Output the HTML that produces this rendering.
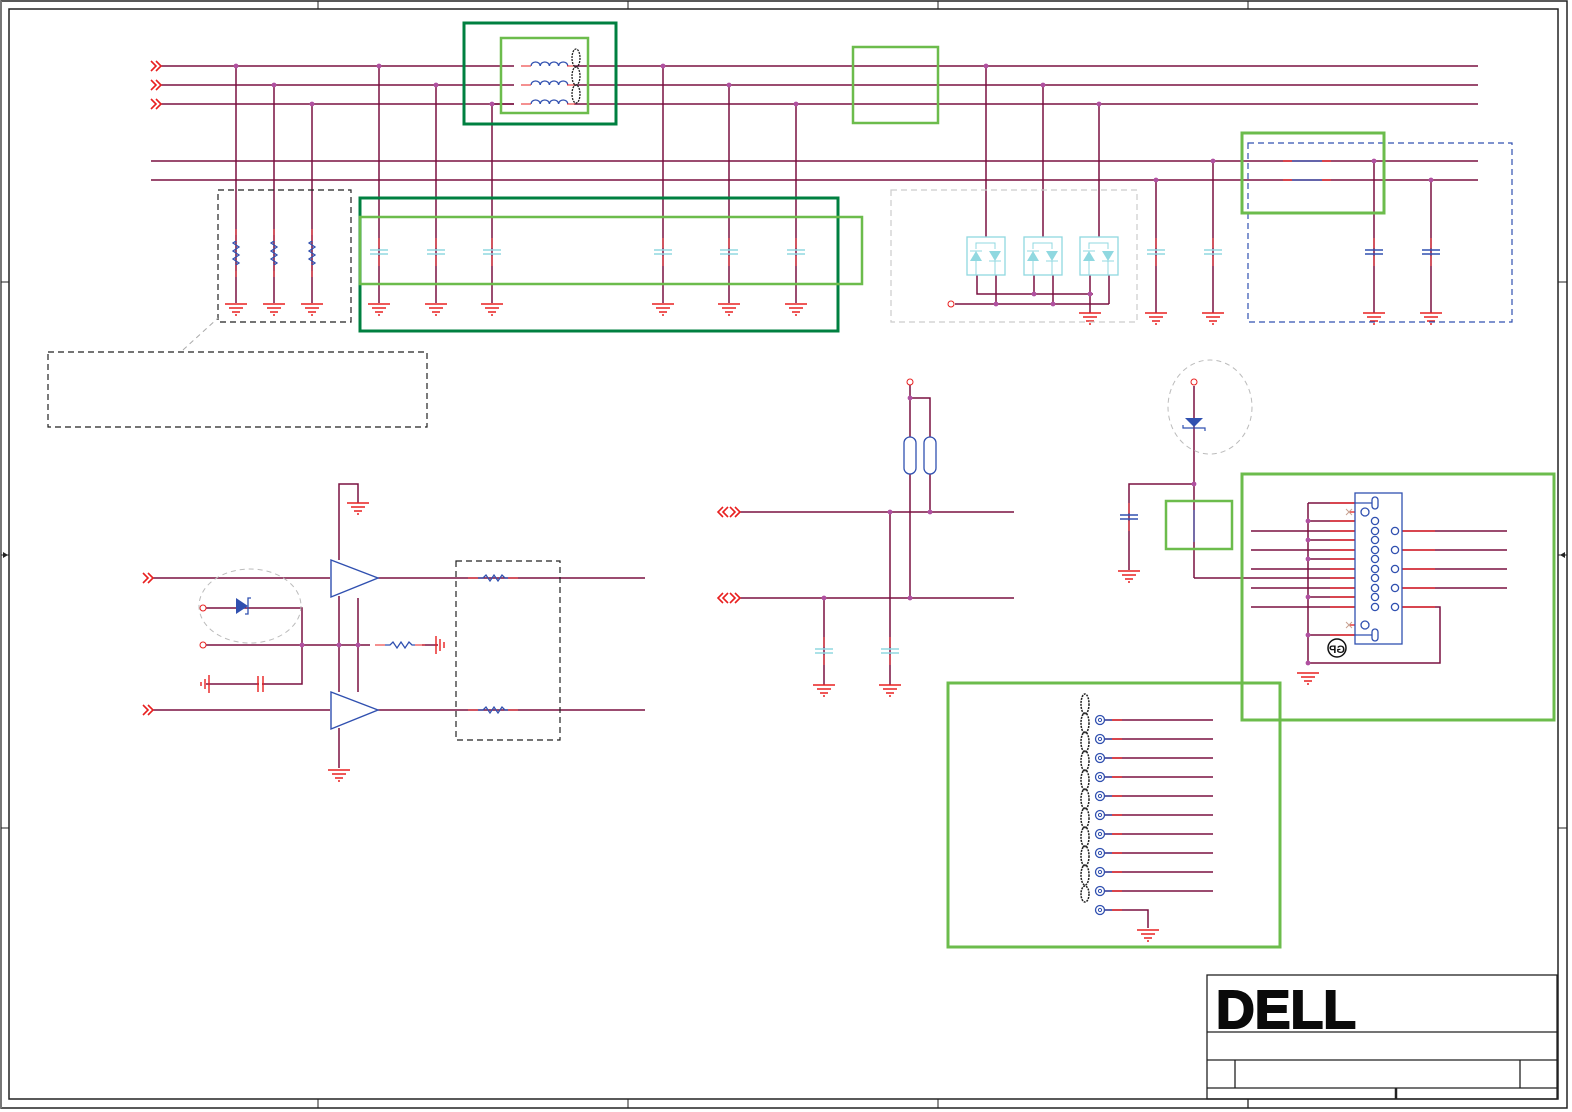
<!DOCTYPE html>
<html><head><meta charset="utf-8"><style>
html,body{margin:0;padding:0;background:#fff;}
svg{display:block;}
</style></head><body>
<svg width="1572" height="1112" viewBox="0 0 1572 1112" xmlns="http://www.w3.org/2000/svg">
<defs>
<g id="gnd"><line x1="-11" y1="0" x2="11" y2="0" stroke="#e82020" stroke-width="1.5"/><line x1="-7" y1="4" x2="7" y2="4" stroke="#e82020" stroke-width="1.5"/><line x1="-4" y1="8" x2="4" y2="8" stroke="#e82020" stroke-width="1.5"/><line x1="-1" y1="11" x2="1" y2="11" stroke="#e82020" stroke-width="1.5"/></g>
<g id="capc"><line x1="-9" y1="-2" x2="9" y2="-2" stroke="#90d8e0" stroke-width="1.5"/><line x1="-9" y1="2" x2="9" y2="2" stroke="#90d8e0" stroke-width="1.5"/><line x1="0" y1="-14" x2="0" y2="-4" stroke="#e82020"/><line x1="0" y1="4" x2="0" y2="14" stroke="#e82020"/></g>
<g id="capb"><line x1="-9" y1="-2" x2="9" y2="-2" stroke="#3050b0" stroke-width="1.5"/><line x1="-9" y1="2" x2="9" y2="2" stroke="#3050b0" stroke-width="1.5"/><line x1="0" y1="-14" x2="0" y2="-4" stroke="#e82020"/><line x1="0" y1="4" x2="0" y2="14" stroke="#e82020"/></g>
<g id="resv"><polyline points="0,-18 0,-12 -3,-10 3,-6 -3,-2 3,2 -3,6 3,10 0,12 0,18" fill="none" stroke="#3050b0" stroke-width="1.3"/><line x1="0" y1="-24" x2="0" y2="-12" stroke="#e82020"/><line x1="0" y1="12" x2="0" y2="24" stroke="#e82020"/></g>
<g id="resh"><polyline points="-15,0 -10,0 -7,-3 -3,3 1,-3 5,3 9,-3 12,0 15,0" fill="none" stroke="#3050b0" stroke-width="1.3"/><line x1="-25" y1="0" x2="-15" y2="0" stroke="#e82020"/><line x1="15" y1="0" x2="25" y2="0" stroke="#e82020"/></g>
<g id="arr"><polyline points="0,-5 5,0 0,5" fill="none" stroke="#e82020" stroke-width="1.6"/><polyline points="5,-5 10,0 5,5" fill="none" stroke="#e82020" stroke-width="1.6"/></g>
<g id="darr"><polyline points="5,-5 0,0 5,5" fill="none" stroke="#e82020" stroke-width="1.6"/><polyline points="10,-5 5,0 10,5" fill="none" stroke="#e82020" stroke-width="1.6"/><polyline points="12,-5 17,0 12,5" fill="none" stroke="#e82020" stroke-width="1.6"/><polyline points="17,-5 22,0 17,5" fill="none" stroke="#e82020" stroke-width="1.6"/></g>
<g id="ind"><path d="M-18,0 a4.6,4 0 0 1 9.2,0 a4.6,4 0 0 1 9.2,0 a4.6,4 0 0 1 9.2,0 a4.6,4 0 0 1 9.2,0" fill="none" stroke="#3050b0" stroke-width="1.3"/><line x1="-28" y1="0" x2="-18" y2="0" stroke="#e82020"/><line x1="18" y1="0" x2="26" y2="0" stroke="#e82020"/></g>
<g id="tvs"><rect x="-19" y="-19" width="38" height="38" fill="none" stroke="#90d8e0" stroke-width="1.3"/><polyline points="-10,-7 -10,-13 9,-13 9,-7" fill="none" stroke="#90d8e0"/><polygon points="-10,-5 -16,5 -4,5" fill="#90d8e0"/><line x1="-16" y1="-5" x2="-4" y2="-5" stroke="#90d8e0"/><polygon points="3,-5 15,-5 9,5" fill="#90d8e0"/><line x1="3" y1="5" x2="15" y2="5" stroke="#90d8e0"/><line x1="-10" y1="5" x2="-10" y2="19" stroke="#90d8e0"/><line x1="9" y1="5" x2="9" y2="19" stroke="#90d8e0"/></g>
<g id="pinc"><circle r="4.5" fill="none" stroke="#3050b0" stroke-width="1.3"/><circle r="1.6" fill="none" stroke="#3050b0"/></g>
</defs>

<rect x="1" y="1" width="1566" height="1107" fill="none" stroke="#222" stroke-width="1.5"/>
<line x1="1" y1="1" x2="1" y2="1108" stroke="#777" stroke-width="2"/>
<rect x="9" y="9" width="1549" height="1090" fill="none" stroke="#222" stroke-width="1.5"/>
<g stroke="#222" stroke-width="1">
<line x1="318" y1="1" x2="318" y2="9"/><line x1="628" y1="1" x2="628" y2="9"/><line x1="938" y1="1" x2="938" y2="9"/><line x1="1248" y1="1" x2="1248" y2="9"/>
<line x1="318" y1="1099" x2="318" y2="1108"/><line x1="628" y1="1099" x2="628" y2="1108"/><line x1="938" y1="1099" x2="938" y2="1108"/><line x1="1248" y1="1099" x2="1248" y2="1108"/>
<line x1="1" y1="282" x2="9" y2="282"/><line x1="1" y1="555" x2="9" y2="555"/><line x1="1" y1="828" x2="9" y2="828"/>
<line x1="1558" y1="282" x2="1567" y2="282"/><line x1="1558" y1="555" x2="1567" y2="555"/><line x1="1558" y1="828" x2="1567" y2="828"/>
</g>
<polygon points="3,552 8,555 3,558" fill="#222"/><polygon points="1565,552 1560,555 1565,558" fill="#222"/>

<g stroke="#7a1040" stroke-width="1.5" fill="none">
<line x1="160" y1="66" x2="1478" y2="66"/><line x1="160" y1="85" x2="1478" y2="85"/><line x1="160" y1="104" x2="1478" y2="104"/>
<line x1="151" y1="161" x2="1478" y2="161"/><line x1="151" y1="180" x2="1478" y2="180"/>
<line x1="236" y1="66" x2="236" y2="303"/><line x1="274" y1="85" x2="274" y2="303"/><line x1="312" y1="104" x2="312" y2="303"/>
<line x1="379" y1="66" x2="379" y2="303"/><line x1="436" y1="85" x2="436" y2="303"/><line x1="492" y1="104" x2="492" y2="303"/>
<line x1="663" y1="66" x2="663" y2="303"/><line x1="729" y1="85" x2="729" y2="303"/><line x1="796" y1="104" x2="796" y2="303"/>
<line x1="986" y1="66" x2="986" y2="237"/><line x1="1043" y1="85" x2="1043" y2="237"/><line x1="1099" y1="104" x2="1099" y2="237"/>
<polyline points="977,275 977,294 1093,294"/><polyline points="996,275 996,304"/><polyline points="1034,275 1034,294"/><polyline points="1053,275 1053,304"/><polyline points="1090,275 1090,313"/><polyline points="1109,275 1109,304"/>
<line x1="955" y1="304" x2="1109" y2="304"/>
<line x1="1156" y1="180" x2="1156" y2="313"/><line x1="1213" y1="161" x2="1213" y2="313"/>
<line x1="1374" y1="161" x2="1374" y2="313"/><line x1="1431" y1="180" x2="1431" y2="313"/>
</g>
<g stroke="#3050b0" stroke-width="1.3"><line x1="1292" y1="161" x2="1322" y2="161"/><line x1="1292" y1="180" x2="1322" y2="180"/></g>
<g stroke="#e82020" stroke-width="1.3"><line x1="1283" y1="161" x2="1292" y2="161"/><line x1="1322" y1="161" x2="1331" y2="161"/><line x1="1283" y1="180" x2="1292" y2="180"/><line x1="1322" y1="180" x2="1331" y2="180"/></g>
<use href="#arr" x="151" y="66"/><use href="#arr" x="151" y="85"/><use href="#arr" x="151" y="104"/>
<use href="#resv" x="236" y="253"/><use href="#resv" x="274" y="253"/><use href="#resv" x="312" y="253"/>
<use href="#capc" x="379" y="252"/><use href="#capc" x="436" y="252"/><use href="#capc" x="492" y="252"/>
<use href="#capc" x="663" y="252"/><use href="#capc" x="729" y="252"/><use href="#capc" x="796" y="252"/>
<use href="#capc" x="1156" y="252"/><use href="#capc" x="1213" y="252"/>
<use href="#capb" x="1374" y="252"/><use href="#capb" x="1431" y="252"/>
<g><use href="#gnd" x="236" y="304"/><use href="#gnd" x="274" y="304"/><use href="#gnd" x="312" y="304"/><use href="#gnd" x="379" y="304"/><use href="#gnd" x="436" y="304"/><use href="#gnd" x="492" y="304"/><use href="#gnd" x="663" y="304"/><use href="#gnd" x="729" y="304"/><use href="#gnd" x="796" y="304"/><use href="#gnd" x="1090" y="313"/><use href="#gnd" x="1156" y="313"/><use href="#gnd" x="1213" y="313"/><use href="#gnd" x="1374" y="313"/><use href="#gnd" x="1431" y="313"/></g>
<rect x="514" y="56" width="60" height="58" fill="#fff"/>
<use href="#ind" x="549" y="66"/><use href="#ind" x="549" y="85"/><use href="#ind" x="549" y="104"/>
<g fill="none" stroke="#222" stroke-width="1.3" stroke-dasharray="2,1"><ellipse cx="576" cy="58" rx="4" ry="9"/><ellipse cx="576" cy="76" rx="4" ry="9"/><ellipse cx="576" cy="94" rx="4" ry="9"/></g>
<line x1="492" y1="104" x2="514" y2="104" stroke="#7a1040" stroke-width="1.5"/>
<use href="#tvs" x="986" y="256"/><use href="#tvs" x="1043" y="256"/><use href="#tvs" x="1099" y="256"/>
<circle cx="951" cy="304" r="3" fill="#fff" stroke="#e82020"/>
<g fill="#b050a0"><circle cx="236" cy="66" r="2.4"/><circle cx="274" cy="85" r="2.4"/><circle cx="312" cy="104" r="2.4"/><circle cx="379" cy="66" r="2.4"/><circle cx="436" cy="85" r="2.4"/><circle cx="492" cy="104" r="2.4"/><circle cx="663" cy="66" r="2.4"/><circle cx="729" cy="85" r="2.4"/><circle cx="796" cy="104" r="2.4"/><circle cx="986" cy="66" r="2.4"/><circle cx="1043" cy="85" r="2.4"/><circle cx="1099" cy="104" r="2.4"/><circle cx="1156" cy="180" r="2.4"/><circle cx="1213" cy="161" r="2.4"/><circle cx="1374" cy="161" r="2.4"/><circle cx="1431" cy="180" r="2.4"/><circle cx="996" cy="304" r="2.4"/><circle cx="1053" cy="304" r="2.4"/><circle cx="1034" cy="294" r="2.4"/><circle cx="1090" cy="294" r="2.4"/></g>

<rect x="464" y="23" width="152" height="101" fill="none" stroke="#008040" stroke-width="3"/>
<rect x="501" y="38" width="87" height="75" fill="none" stroke="#6cbc4c" stroke-width="2.5"/>
<rect x="853" y="47" width="85" height="76" fill="none" stroke="#6cbc4c" stroke-width="2.5"/>
<rect x="360" y="198" width="478" height="133" fill="none" stroke="#008040" stroke-width="3"/>
<rect x="360" y="217" width="502" height="67" fill="none" stroke="#6cbc4c" stroke-width="2.5"/>
<rect x="218" y="190" width="133" height="132" fill="none" stroke="#222" stroke-width="1.2" stroke-dasharray="6,4"/>
<rect x="48" y="352" width="379" height="75" fill="none" stroke="#222" stroke-width="1.2" stroke-dasharray="6,4"/>
<line x1="183" y1="350" x2="218" y2="318" stroke="#aaa" stroke-dasharray="5,4"/>
<rect x="891" y="190" width="246" height="132" fill="none" stroke="#ccc" stroke-width="1.2" stroke-dasharray="6,4"/>
<rect x="1248" y="143" width="264" height="179" fill="none" stroke="#3050b0" stroke-width="1.2" stroke-dasharray="6,4"/>
<rect x="1242" y="133" width="142" height="80" fill="none" stroke="#6cbc4c" stroke-width="3"/>

<g stroke="#7a1040" stroke-width="1.5" fill="none">
<line x1="152" y1="578" x2="330" y2="578"/><line x1="152" y1="710" x2="330" y2="710"/>
<line x1="378" y1="578" x2="645" y2="578"/><line x1="378" y1="710" x2="645" y2="710"/>
<polyline points="339,560 339,484 358,484 358,503"/>
<line x1="339" y1="596" x2="339" y2="692"/><line x1="358" y1="598" x2="358" y2="692"/>
<line x1="206" y1="645" x2="370" y2="645"/>
<line x1="438" y1="645" x2="422" y2="645"/>
<polyline points="206,608 302,608 302,684 206,684"/>
<line x1="339" y1="728" x2="339" y2="768"/>
</g>
<use href="#arr" x="143" y="578"/><use href="#arr" x="143" y="710"/>
<polygon points="331,560 378,578 331,597" fill="#fff" stroke="#3050b0" stroke-width="1.4"/>
<polygon points="331,692 378,710 331,729" fill="#fff" stroke="#3050b0" stroke-width="1.4"/>
<use href="#gnd" x="358" y="503"/><use href="#gnd" x="339" y="770"/>
<use href="#resh" x="400" y="645"/><use href="#resh" x="493" y="578"/><use href="#resh" x="493" y="710"/>
<g stroke="#e82020" stroke-width="1.4"><line x1="436" y1="636" x2="436" y2="654"/><line x1="440" y1="639" x2="440" y2="651"/><line x1="444" y1="642" x2="444" y2="648"/>
<line x1="209" y1="675" x2="209" y2="693"/><line x1="205" y1="679" x2="205" y2="689"/><line x1="201" y1="682" x2="201" y2="686"/>
<line x1="258" y1="676" x2="258" y2="692"/><line x1="263" y1="676" x2="263" y2="692"/></g>
<rect x="259" y="678" width="3" height="12" fill="#fff"/>
<polygon points="236,598 248,606 236,614" fill="#3050b0"/><polyline points="251,598 248,598 248,614 245,614" fill="none" stroke="#3050b0" stroke-width="1.3"/>
<circle cx="203" cy="608" r="3" fill="#fff" stroke="#e82020"/><circle cx="203" cy="645" r="3" fill="#fff" stroke="#e82020"/>
<ellipse cx="250" cy="606" rx="51" ry="37" fill="none" stroke="#bbb" stroke-dasharray="5,4"/>
<rect x="456" y="561" width="104" height="179" fill="none" stroke="#222" stroke-width="1.2" stroke-dasharray="6,4"/>
<g fill="#b050a0"><circle cx="302" cy="645" r="2.4"/><circle cx="339" cy="645" r="2.4"/><circle cx="358" cy="645" r="2.4"/></g>

<g stroke="#7a1040" stroke-width="1.5" fill="none">
<line x1="740" y1="512" x2="1014" y2="512"/><line x1="740" y1="598" x2="1014" y2="598"/>
<line x1="910" y1="385" x2="910" y2="598"/><polyline points="910,398 930,398 930,512"/>
<line x1="890" y1="512" x2="890" y2="685"/><line x1="824" y1="598" x2="824" y2="685"/>
<line x1="1194" y1="386" x2="1194" y2="578"/><polyline points="1194,484 1129,484 1129,570"/>
<polyline points="1194,578 1355,578"/>
</g>
<use href="#darr" x="718" y="512"/><use href="#darr" x="718" y="598"/>
<rect x="904" y="437" width="12" height="37" rx="6" fill="#fff" stroke="#3050b0" stroke-width="1.3"/>
<rect x="924" y="437" width="12" height="37" rx="6" fill="#fff" stroke="#3050b0" stroke-width="1.3"/>
<circle cx="910" cy="382" r="3" fill="#fff" stroke="#e82020"/>
<use href="#capc" x="824" y="651"/><use href="#capc" x="890" y="651"/>
<use href="#gnd" x="824" y="685"/><use href="#gnd" x="890" y="685"/>
<g fill="#b050a0"><circle cx="910" cy="398" r="2.4"/><circle cx="890" cy="512" r="2.4"/><circle cx="930" cy="512" r="2.4"/><circle cx="824" cy="598" r="2.4"/><circle cx="910" cy="598" r="2.4"/><circle cx="1194" cy="484" r="2.4"/></g>
<circle cx="1194" cy="382" r="3" fill="#fff" stroke="#e82020"/>
<polygon points="1185,418 1203,418 1194,427" fill="#3050b0"/><polyline points="1183,425 1183,428 1205,428 1205,431" fill="none" stroke="#3050b0" stroke-width="1.2"/>
<ellipse cx="1210" cy="407" rx="42" ry="47" fill="none" stroke="#bbb" stroke-dasharray="5,4"/>
<use href="#capb" x="1129" y="517"/><use href="#gnd" x="1129" y="571"/>
<line x1="1194" y1="510" x2="1194" y2="542" stroke="#3050b0"/>
<rect x="1166" y="501" width="66" height="48" fill="none" stroke="#6cbc4c" stroke-width="2.5"/>

<g stroke="#7a1040" stroke-width="1.5" fill="none">
<line x1="1251" y1="531" x2="1355" y2="531"/><line x1="1251" y1="550" x2="1355" y2="550"/><line x1="1251" y1="569" x2="1355" y2="569"/><line x1="1251" y1="588" x2="1355" y2="588"/><line x1="1251" y1="607" x2="1355" y2="607"/>
<polyline points="1308,503 1308,665"/>
<line x1="1308" y1="503" x2="1355" y2="503"/><line x1="1308" y1="521" x2="1355" y2="521"/><line x1="1308" y1="540" x2="1355" y2="540"/><line x1="1308" y1="559" x2="1355" y2="559"/><line x1="1308" y1="597" x2="1355" y2="597"/><line x1="1308" y1="635" x2="1355" y2="635"/>
<line x1="1402" y1="531" x2="1507" y2="531"/><line x1="1402" y1="550" x2="1507" y2="550"/><line x1="1402" y1="569" x2="1507" y2="569"/><line x1="1402" y1="588" x2="1507" y2="588"/>
<polyline points="1402,607 1440,607 1440,663 1308,663"/>
</g>
<g stroke="#e82020" stroke-width="1.3"><line x1="1330" y1="503" x2="1355" y2="503"/><line x1="1330" y1="521" x2="1355" y2="521"/><line x1="1330" y1="531" x2="1355" y2="531"/><line x1="1330" y1="540" x2="1355" y2="540"/><line x1="1330" y1="550" x2="1355" y2="550"/><line x1="1330" y1="559" x2="1355" y2="559"/><line x1="1330" y1="569" x2="1355" y2="569"/><line x1="1330" y1="578" x2="1355" y2="578"/><line x1="1330" y1="588" x2="1355" y2="588"/><line x1="1330" y1="597" x2="1355" y2="597"/><line x1="1330" y1="607" x2="1355" y2="607"/><line x1="1330" y1="635" x2="1355" y2="635"/><line x1="1350" y1="512" x2="1364" y2="512"/><line x1="1350" y1="625" x2="1364" y2="625"/>
<line x1="1402" y1="531" x2="1435" y2="531"/><line x1="1402" y1="550" x2="1435" y2="550"/><line x1="1402" y1="569" x2="1435" y2="569"/><line x1="1402" y1="588" x2="1435" y2="588"/><line x1="1402" y1="607" x2="1435" y2="607"/></g>
<rect x="1355" y="493" width="47" height="151" fill="#fff" stroke="#3050b0" stroke-width="1.3"/>
<g stroke="#3050b0" stroke-width="1.3"><line x1="1355" y1="503" x2="1372" y2="503"/><line x1="1355" y1="635" x2="1372" y2="635"/></g>
<g fill="#fff" stroke="#3050b0" stroke-width="1.3">
<rect x="1372" y="497" width="6" height="12" rx="3"/><rect x="1372" y="629" width="6" height="12" rx="3"/>
<circle cx="1365" cy="512" r="4"/><circle cx="1365" cy="625" r="4"/>
<circle cx="1375" cy="521" r="3.6"/><circle cx="1375" cy="531" r="3.6"/><circle cx="1375" cy="540" r="3.6"/><circle cx="1375" cy="550" r="3.6"/><circle cx="1375" cy="559" r="3.6"/><circle cx="1375" cy="569" r="3.6"/><circle cx="1375" cy="578" r="3.6"/><circle cx="1375" cy="588" r="3.6"/><circle cx="1375" cy="597" r="3.6"/><circle cx="1375" cy="607" r="3.6"/>
<circle cx="1395" cy="531" r="3.6"/><circle cx="1395" cy="550" r="3.6"/><circle cx="1395" cy="569" r="3.6"/><circle cx="1395" cy="588" r="3.6"/><circle cx="1395" cy="607" r="3.6"/>
</g>
<g stroke="#c8a090"><line x1="1346" y1="509" x2="1352" y2="515"/><line x1="1346" y1="515" x2="1352" y2="509"/><line x1="1346" y1="622" x2="1352" y2="628"/><line x1="1346" y1="628" x2="1352" y2="622"/></g>
<g fill="#b050a0"><circle cx="1308" cy="521" r="2.4"/><circle cx="1308" cy="540" r="2.4"/><circle cx="1308" cy="559" r="2.4"/><circle cx="1308" cy="597" r="2.4"/><circle cx="1308" cy="635" r="2.4"/><circle cx="1308" cy="663" r="2.4"/></g>
<use href="#gnd" x="1308" y="673"/>
<circle cx="1337" cy="648" r="9" fill="#fff" stroke="#111" stroke-width="1.5"/>
<text x="1337" y="653" font-family="Liberation Sans, sans-serif" font-size="11" font-weight="bold" text-anchor="middle" fill="#111" transform="translate(2674,0) scale(-1,1)">GP</text>
<rect x="1242" y="474" width="312" height="246" fill="none" stroke="#6cbc4c" stroke-width="3"/>

<g stroke="#7a1040" stroke-width="1.5" fill="none">
<line x1="1104" y1="720" x2="1213" y2="720"/><line x1="1104" y1="739" x2="1213" y2="739"/><line x1="1104" y1="758" x2="1213" y2="758"/><line x1="1104" y1="777" x2="1213" y2="777"/><line x1="1104" y1="796" x2="1213" y2="796"/><line x1="1104" y1="815" x2="1213" y2="815"/><line x1="1104" y1="834" x2="1213" y2="834"/><line x1="1104" y1="853" x2="1213" y2="853"/><line x1="1104" y1="872" x2="1213" y2="872"/><line x1="1104" y1="891" x2="1213" y2="891"/>
<polyline points="1104,910 1148,910 1148,928"/>
</g>
<g stroke="#e82020" stroke-width="1.3"><line x1="1112" y1="720" x2="1122" y2="720"/><line x1="1112" y1="739" x2="1122" y2="739"/><line x1="1112" y1="758" x2="1122" y2="758"/><line x1="1112" y1="777" x2="1122" y2="777"/><line x1="1112" y1="796" x2="1122" y2="796"/><line x1="1112" y1="815" x2="1122" y2="815"/><line x1="1112" y1="834" x2="1122" y2="834"/><line x1="1112" y1="853" x2="1122" y2="853"/><line x1="1112" y1="872" x2="1122" y2="872"/><line x1="1112" y1="891" x2="1122" y2="891"/><line x1="1112" y1="910" x2="1122" y2="910"/></g>
<g stroke="#3050b0" stroke-width="1.3"><line x1="1104" y1="720" x2="1112" y2="720"/><line x1="1104" y1="739" x2="1112" y2="739"/><line x1="1104" y1="758" x2="1112" y2="758"/><line x1="1104" y1="777" x2="1112" y2="777"/><line x1="1104" y1="796" x2="1112" y2="796"/><line x1="1104" y1="815" x2="1112" y2="815"/><line x1="1104" y1="834" x2="1112" y2="834"/><line x1="1104" y1="853" x2="1112" y2="853"/><line x1="1104" y1="872" x2="1112" y2="872"/><line x1="1104" y1="891" x2="1112" y2="891"/><line x1="1104" y1="910" x2="1112" y2="910"/></g>
<g><use href="#pinc" x="1100" y="720"/><use href="#pinc" x="1100" y="739"/><use href="#pinc" x="1100" y="758"/><use href="#pinc" x="1100" y="777"/><use href="#pinc" x="1100" y="796"/><use href="#pinc" x="1100" y="815"/><use href="#pinc" x="1100" y="834"/><use href="#pinc" x="1100" y="853"/><use href="#pinc" x="1100" y="872"/><use href="#pinc" x="1100" y="891"/><use href="#pinc" x="1100" y="910"/></g>
<use href="#gnd" x="1148" y="930"/>
<g fill="none" stroke="#222" stroke-width="1.5" stroke-dasharray="2,1">
<ellipse cx="1085" cy="704" rx="4" ry="10"/><ellipse cx="1085" cy="723" rx="4" ry="10"/><ellipse cx="1085" cy="742" rx="4" ry="10"/><ellipse cx="1085" cy="761" rx="4" ry="10"/><ellipse cx="1085" cy="780" rx="4" ry="10"/><ellipse cx="1085" cy="799" rx="4" ry="10"/><ellipse cx="1085" cy="818" rx="4" ry="10"/><ellipse cx="1085" cy="837" rx="4" ry="10"/><ellipse cx="1085" cy="856" rx="4" ry="10"/><ellipse cx="1085" cy="875" rx="4" ry="10"/><ellipse cx="1085" cy="894" rx="4" ry="8"/>
</g>
<rect x="948" y="683" width="332" height="264" fill="none" stroke="#6cbc4c" stroke-width="3"/>

<g stroke="#222" stroke-width="1.3" fill="none">
<rect x="1207" y="975" width="350" height="124"/>
<line x1="1207" y1="1032" x2="1557" y2="1032"/><line x1="1207" y1="1060" x2="1557" y2="1060"/><line x1="1207" y1="1088" x2="1557" y2="1088"/>
<line x1="1235" y1="1060" x2="1235" y2="1088"/><line x1="1520" y1="1060" x2="1520" y2="1088"/>
<line x1="1396" y1="1088" x2="1396" y2="1099" stroke-width="2.5"/>
<line x1="1248" y1="1099" x2="1248" y2="1108"/>
</g>
<text x="1216" y="1028" font-family="Liberation Sans, sans-serif" font-size="54" font-weight="900" fill="#0a0a0a" stroke="#0a0a0a" stroke-width="2" textLength="140" lengthAdjust="spacingAndGlyphs">DELL</text>
</svg>
</body></html>
